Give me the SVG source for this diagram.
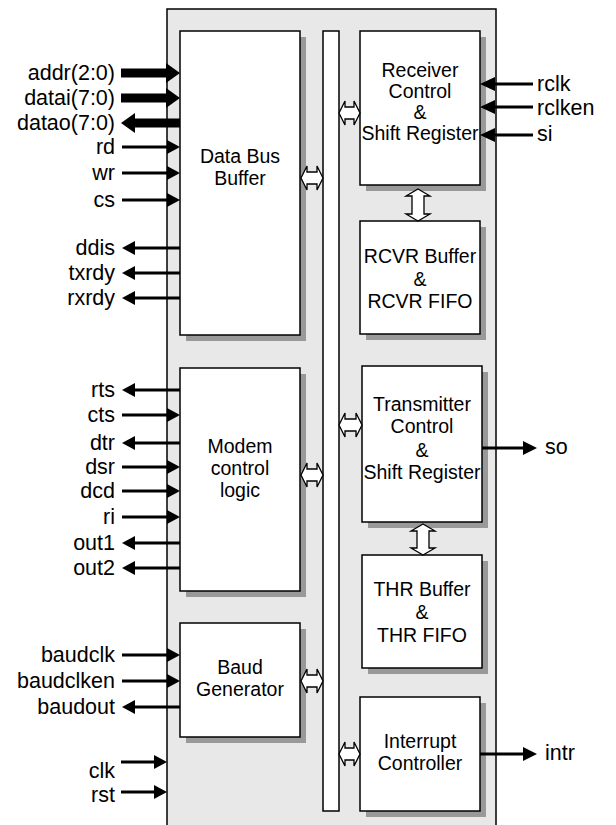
<svg xmlns="http://www.w3.org/2000/svg" width="616" height="825" viewBox="0 0 616 825">
<style>
.blk{fill:#fff;stroke:#000;stroke-width:1.5}
.sh{fill:#999}
.bt{font-family:"Liberation Sans",Arial,sans-serif;font-size:19.5px;text-anchor:middle;fill:#000}
.lt{font-family:"Liberation Sans",Arial,sans-serif;font-size:21.5px;text-anchor:end;fill:#000}
.rt{font-family:"Liberation Sans",Arial,sans-serif;font-size:21.5px;text-anchor:start;fill:#000}
.ln{stroke:#000;stroke-width:3;fill:none}
.hd{fill:#000}
.ba{fill:#fff;stroke:#000;stroke-width:1.3}
</style>
<rect x="167" y="9" width="329" height="830" fill="#e8e8e8" stroke="#000" stroke-width="1.5"/>
<g id="bus">
<rect x="323" y="31" width="16" height="780" class="blk"/>
</g>
<g id="databus">
<rect x="186" y="37" width="120" height="304" class="sh"/>
<rect x="180" y="31" width="120" height="304" class="blk"/>
<text class="bt" x="240" y="163">Data Bus</text>
<text class="bt" x="240" y="185">Buffer</text>
</g>
<g id="modem">
<rect x="186" y="374" width="120" height="223" class="sh"/>
<rect x="180" y="368" width="120" height="223" class="blk"/>
<text class="bt" x="240" y="453">Modem</text>
<text class="bt" x="240" y="475">control</text>
<text class="bt" x="240" y="497">logic</text>
</g>
<g id="baud">
<rect x="186" y="629" width="120" height="114" class="sh"/>
<rect x="180" y="623" width="120" height="114" class="blk"/>
<text class="bt" x="240" y="674">Baud</text>
<text class="bt" x="240" y="696">Generator</text>
</g>
<g id="receiver">
<rect x="366" y="37" width="120" height="154" class="sh"/>
<rect x="360" y="31" width="120" height="154" class="blk"/>
<text class="bt" x="420" y="77">Receiver</text>
<text class="bt" x="420" y="98">Control</text>
<text class="bt" x="420" y="119">&amp;</text>
<text class="bt" x="420" y="140">Shift Register</text>
</g>
<g id="rcvr">
<rect x="366" y="227" width="120" height="113" class="sh"/>
<rect x="360" y="221" width="120" height="113" class="blk"/>
<text class="bt" x="420" y="263">RCVR Buffer</text>
<text class="bt" x="420" y="286">&amp;</text>
<text class="bt" x="420" y="308">RCVR FIFO</text>
</g>
<g id="transmitter">
<rect x="368" y="372" width="120" height="156" class="sh"/>
<rect x="362" y="366" width="120" height="156" class="blk"/>
<text class="bt" x="422" y="411">Transmitter</text>
<text class="bt" x="422" y="433">Control</text>
<text class="bt" x="422" y="457">&amp;</text>
<text class="bt" x="422" y="479">Shift Register</text>
</g>
<g id="thr">
<rect x="368" y="561" width="120" height="113" class="sh"/>
<rect x="362" y="555" width="120" height="113" class="blk"/>
<text class="bt" x="422" y="596">THR Buffer</text>
<text class="bt" x="422" y="619">&amp;</text>
<text class="bt" x="422" y="642">THR FIFO</text>
</g>
<g id="interrupt">
<rect x="366" y="703" width="120" height="114" class="sh"/>
<rect x="360" y="697" width="120" height="114" class="blk"/>
<text class="bt" x="420" y="748">Interrupt</text>
<text class="bt" x="420" y="770">Controller</text>
</g>
<g id="connectors">
<!-- bus double arrows -->
<polygon class="ba" points="301,178 307,166 307,172 317,172 317,166 323,178 317,190 317,184 307,184 307,190"/>
<polygon class="ba" points="301,475 307,463 307,469 317,469 317,463 323,475 317,487 317,481 307,481 307,487"/>
<polygon class="ba" points="301,681 307,669 307,675 317,675 317,669 323,681 317,693 317,687 307,687 307,693"/>
<polygon class="ba" points="339,113 345,101 345,107 354,107 354,101 360,113 354,125 354,119 345,119 345,125"/>
<polygon class="ba" points="339,425 345,413 345,419 356,419 356,413 362,425 356,437 356,431 345,431 345,437"/>
<polygon class="ba" points="339,754 345,742 345,748 354,748 354,742 360,754 354,766 354,760 345,760 345,766"/>
<polygon class="ba" points="418,189 430,196 424,196 424,214 430,214 418,221 406,214 412,214 412,196 406,196"/>
<polygon class="ba" points="423,524 435,531 429,531 429,548 435,548 423,555 411,548 417,548 417,531 411,531"/>
<!-- thick bus signals -->
<rect x="121" y="68.5" width="46" height="9" class="hd"/>
<polygon class="hd" points="166,63 180,73 166,83"/>
<rect x="121" y="93.5" width="46" height="9" class="hd"/>
<polygon class="hd" points="166,88 180,98 166,108"/>
<rect x="134" y="118.5" width="46" height="9" class="hd"/>
<polygon class="hd" points="135,113 121,123 135,133"/>
<!-- left inputs -->
<path class="ln" d="M122,147H168M122,173H168M122,200H168M122,415H168M122,467H168M122,491H168M122,517H168M122,655H168M122,681H168M121,762H155M121,792H155"/>
<polygon class="hd" points="167,140 180,147 167,154"/>
<polygon class="hd" points="167,166 180,173 167,180"/>
<polygon class="hd" points="167,193 180,200 167,207"/>
<polygon class="hd" points="167,408 180,415 167,422"/>
<polygon class="hd" points="167,460 180,467 167,474"/>
<polygon class="hd" points="167,484 180,491 167,498"/>
<polygon class="hd" points="167,510 180,517 167,524"/>
<polygon class="hd" points="167,648 180,655 167,662"/>
<polygon class="hd" points="167,674 180,681 167,688"/>
<polygon class="hd" points="154,755 167,762 154,769"/>
<polygon class="hd" points="154,785 167,792 154,799"/>
<!-- left outputs -->
<path class="ln" d="M134,248H180M134,273H180M134,298H180M134,390H180M134,443H180M134,543H180M134,568H180M134,707H180"/>
<polygon class="hd" points="122,248 135,241 135,255"/>
<polygon class="hd" points="122,273 135,266 135,280"/>
<polygon class="hd" points="122,298 135,291 135,305"/>
<polygon class="hd" points="122,390 135,383 135,397"/>
<polygon class="hd" points="122,443 135,436 135,450"/>
<polygon class="hd" points="122,543 135,536 135,550"/>
<polygon class="hd" points="122,568 135,561 135,575"/>
<polygon class="hd" points="122,707 135,700 135,714"/>
<!-- right inputs -->
<path class="ln" d="M494,84H533M494,107H533M494,135H533"/>
<polygon class="hd" points="480,84 495,77 495,91"/>
<polygon class="hd" points="480,107 495,100 495,114"/>
<polygon class="hd" points="480,135 495,128 495,142"/>
<!-- right outputs -->
<path class="ln" d="M482,448H524M480,754H524"/>
<polygon class="hd" points="523,441 537,448 523,455"/>
<polygon class="hd" points="523,747 537,754 523,761"/>
</g>
<g id="labels">
<text class="lt" x="115" y="80">addr(2:0)</text>
<text class="lt" x="115" y="105">datai(7:0)</text>
<text class="lt" x="115" y="130">datao(7:0)</text>
<text class="lt" x="115" y="154">rd</text>
<text class="lt" x="115" y="180">wr</text>
<text class="lt" x="115" y="207">cs</text>
<text class="lt" x="115" y="255">ddis</text>
<text class="lt" x="115" y="280">txrdy</text>
<text class="lt" x="115" y="305">rxrdy</text>
<text class="lt" x="115" y="397">rts</text>
<text class="lt" x="115" y="422">cts</text>
<text class="lt" x="115" y="450">dtr</text>
<text class="lt" x="115" y="474">dsr</text>
<text class="lt" x="115" y="498">dcd</text>
<text class="lt" x="115" y="524">ri</text>
<text class="lt" x="115" y="550">out1</text>
<text class="lt" x="115" y="575">out2</text>
<text class="lt" x="115" y="662">baudclk</text>
<text class="lt" x="115" y="688">baudclken</text>
<text class="lt" x="115" y="714">baudout</text>
<text class="lt" x="115" y="778">clk</text>
<text class="lt" x="115" y="802">rst</text>
<text class="rt" x="537" y="91">rclk</text>
<text class="rt" x="537" y="115">rclken</text>
<text class="rt" x="537" y="141">si</text>
<text class="rt" x="545" y="454">so</text>
<text class="rt" x="545" y="760">intr</text>
</g>
</svg>
